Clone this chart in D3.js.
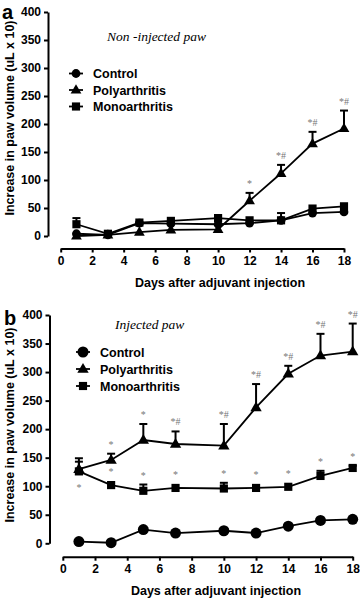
<!DOCTYPE html>
<html><head><meta charset="utf-8">
<script src="https://cdn.jsdelivr.net/npm/d3@7"></script>
<style>body{margin:0;background:#fff}svg{display:block}</style>
</head><body>
<svg id="c" width="360" height="600"></svg>
<script>
const days = [1,3,5,7,10,12,14,16,18];
const xTicks = [0,2,4,6,8,10,12,14,16,18];
const yTicks = [0,50,100,150,200,250,300,350,400];
const seriesNames = ["Control","Polyarthritis","Monoarthritis"];

// Panel a: non-injected paw
const aControl = [4,2,23,22,21,23,28,41,43];
const aPoly    = [0,2,7,11,12,63,112,165,192];
const aMono    = [21,4,24,27,32,28,28,49,53];
const aControlErr = [0,0,0,0,0,0,0,0,0];
const aPolyErr    = [0,0,0,0,0,14,15,21,32];
const aMonoErr    = [11,0,0,0,0,0,13,0,0];
const aPolyMarks  = ["","","","","","*","*#","*#","*#"];
const aMonoMarks  = ["","","","","","","","",""];

// Panel b: injected paw
const bControl = [3,1,24,18,22,18,30,40,42];
const bPoly    = [130,146,181,174,171,238,297,329,336];
const bMono    = [126,102,92,97,96,97,99,118,132];
const bControlErr = [0,0,0,0,0,0,0,0,0];
const bPolyErr    = [19,11,28,22,38,41,14,38,49];
const bMonoErr    = [17,0,11,0,10,0,0,9,4];
const bPolyMarks  = ["","*","*","*#","*#","*#","*#","*#","*#"];
const bMonoMarks  = ["*","*","*","*","*","*","*","*","*"];

const svg = d3.select("#c");
const SANS = "Arial, 'Liberation Sans', Helvetica, sans-serif";
const SERIF = "'Times New Roman', 'Liberation Serif', serif";

function marker(g, type, x, y, s) {
  if (type === 0) g.append("circle").attr("cx", x).attr("cy", y).attr("r", s*0.55).attr("fill","#000");
  else if (type === 1) g.append("path").attr("d", d3.symbol(d3.symbolTriangle, s*s*0.62)()).attr("transform",`translate(${x},${y+0.5})`).attr("fill","#000");
  else g.append("rect").attr("x", x-s*0.48).attr("y", y-s*0.48).attr("width", s*0.96).attr("height", s*0.96).attr("fill","#000");
}

function panel(cfg) {
  const x = d3.scaleLinear().domain([0,18]).range(cfg.xr);
  const y = d3.scaleLinear().domain([0,400]).range(cfg.yr);
  const g = svg.append("g");

  // y axis
  const ya = g.append("g").attr("transform",`translate(${cfg.yAxisX},0)`)
    .call(d3.axisLeft(y).tickValues(yTicks).tickSize(4).tickSizeOuter(0).tickPadding(3));
  ya.select(".domain").attr("stroke-width",2);
  ya.selectAll(".tick line").attr("stroke-width",2);
  ya.selectAll("text").attr("font-family",SANS).attr("font-weight","bold").attr("font-size",12).attr("fill","#000");

  // x axis
  const xa = g.append("g").attr("transform",`translate(0,${cfg.xAxisY})`)
    .call(d3.axisBottom(x).tickValues(xTicks).tickSize(4).tickSizeOuter(0).tickPadding(4));
  xa.select(".domain").attr("stroke-width",2);
  xa.selectAll(".tick line").attr("stroke-width",2);
  xa.selectAll("text").attr("font-family",SANS).attr("font-weight","bold").attr("font-size",12).attr("fill","#000");

  // axis titles
  g.append("text").attr("x",cfg.xTitle[0]).attr("y",cfg.xTitle[1]).attr("text-anchor","middle")
    .attr("font-family",SANS).attr("font-weight","bold").attr("font-size",12.5).text("Days after adjuvant injection");
  g.append("text").attr("transform",`translate(${cfg.yTitle[0]},${cfg.yTitle[1]}) rotate(-90)`).attr("text-anchor","middle")
    .attr("font-family",SANS).attr("font-weight","bold").attr("font-size",12.5).text("Increase in paw volume (uL x 10)");

  // panel letter and italic title
  g.append("text").attr("x",cfg.letter[0]).attr("y",cfg.letter[1]).attr("font-family",SANS).attr("font-weight","bold").attr("font-size",20).text(cfg.letterText);
  g.append("text").attr("x",cfg.title[0]).attr("y",cfg.title[1]).attr("font-family",SERIF).attr("font-style","italic").attr("font-size",13.5).text(cfg.titleText);

  const series = [
    {v: cfg.control, e: cfg.controlErr, t: 0, m: null},
    {v: cfg.mono, e: cfg.monoErr, t: 2, m: cfg.monoMarks},
    {v: cfg.poly, e: cfg.polyErr, t: 1, m: cfg.polyMarks}
  ];
  const line = d3.line().x((d,i)=>x(days[i])).y(d=>y(d));
  series.forEach(s => {
    g.append("path").datum(s.v).attr("d", line).attr("fill","none").attr("stroke","#000").attr("stroke-width",1.8);
    s.v.forEach((v,i) => {
      if (s.e[i] > 0) {
        const cx = x(days[i]), y0 = y(v), y1 = y(v + s.e[i]);
        g.append("line").attr("x1",cx).attr("x2",cx).attr("y1",y0).attr("y2",y1).attr("stroke","#000").attr("stroke-width",2);
        g.append("line").attr("x1",cx-4).attr("x2",cx+4).attr("y1",y1).attr("y2",y1).attr("stroke","#000").attr("stroke-width",2);
      }
    });
  });
  series.forEach(s => {
    s.v.forEach((v,i) => marker(g, s.t, x(days[i]), y(v), cfg.ms[s.t]));
  });
  // significance marks
  series.forEach(s => {
    if (!s.m) return;
    s.v.forEach((v,i) => {
      const lab = s.m[i];
      if (!lab) return;
      const cx = x(days[i]);
      let ty;
      if (cfg.below && s.t === 2 && i === 0) ty = y(v) + 20;
      else ty = y(v + s.e[i]) - (s.e[i] > 0 ? 6 : cfg.markGap);
      g.append("text").attr("x",cx).attr("y",ty).attr("text-anchor","middle")
        .attr("font-family",SERIF).attr("font-size",10).attr("fill","#777").text(lab);
    });
  });

  // legend
  seriesNames.forEach((n,i) => {
    const ly = cfg.legend[1] + i*cfg.legendStep;
    g.append("line").attr("x1",cfg.legend[0]-7).attr("x2",cfg.legend[0]+7).attr("y1",ly).attr("y2",ly).attr("stroke","#000").attr("stroke-width",1.8);
    marker(g, i, cfg.legend[0], ly, cfg.ms[i]);
    g.append("text").attr("x",cfg.legend[0]+17).attr("y",ly+4.5).attr("font-family",SANS).attr("font-weight","bold").attr("font-size",12.5).text(n);
  });
}

panel({
  xr:[60.7,344], yr:[236,12], yAxisX:48, xAxisY:248.5,
  xTitle:[220,287], yTitle:[14,118], letter:[2,19], letterText:"a",
  title:[107,41], titleText:"Non -injected paw",
  control:aControl, poly:aPoly, mono:aMono,
  controlErr:aControlErr, polyErr:aPolyErr, monoErr:aMonoErr,
  polyMarks:aPolyMarks, monoMarks:aMonoMarks, below:false, markGap:10,
  ms:[8,9,8.5], legend:[76,73.5], legendStep:16.5
});
panel({
  xr:[62.8,352.7], yr:[543.3,315], yAxisX:49.5, xAxisY:556.7,
  xTitle:[216,595], yTitle:[14,425], letter:[4,325], letterText:"b",
  title:[115,329], titleText:"Injected paw",
  control:bControl, poly:bPoly, mono:bMono,
  controlErr:bControlErr, polyErr:bPolyErr, monoErr:bMonoErr,
  polyMarks:bPolyMarks, monoMarks:bMonoMarks, below:true, markGap:10,
  ms:[10,9.5,8.5], legend:[83,352], legendStep:17
});
</script>
</body></html>
